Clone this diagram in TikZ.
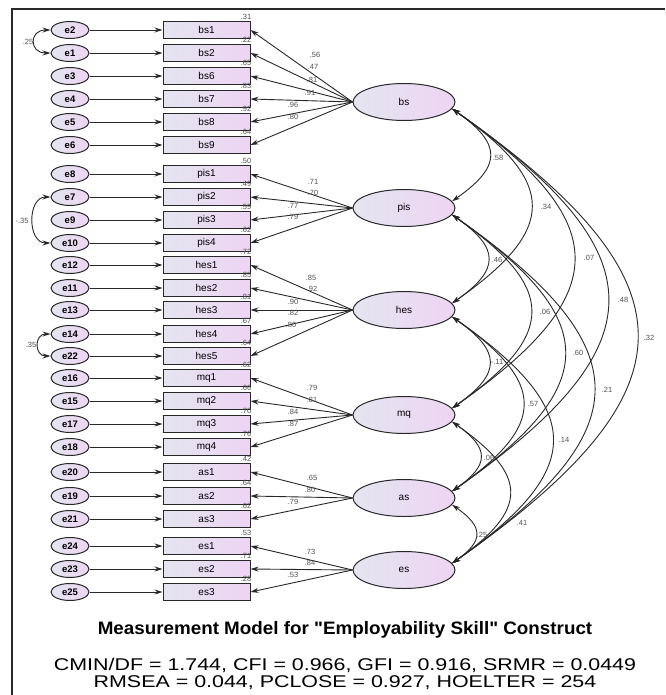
\documentclass[tikz,border=0pt]{standalone}
\usepackage{fontspec}
\setmainfont{Liberation Sans}[Ligatures=TeXOff]
\usetikzlibrary{arrows.meta, shapes.geometric}

\definecolor{linegray}{RGB}{40,40,40}
\definecolor{numgray}{RGB}{80,80,80}
\definecolor{fillleft}{RGB}{228,229,240}
\definecolor{fillright}{RGB}{238,212,243}

\tikzset{
  obs/.style = {draw=linegray, line width=1pt, rectangle, minimum width=87pt,
    minimum height=17pt, inner sep=0pt, left color=fillleft, right color=fillright,
    font=\fontsize{10}{10}\selectfont},
  err/.style = {draw=linegray, line width=1pt, ellipse, minimum width=38pt,
    minimum height=17pt, inner sep=0pt, left color=fillleft, right color=fillright,
    font=\fontsize{9.5}{9.5}\selectfont\bfseries},
  lat/.style = {draw=linegray, line width=1pt, ellipse, minimum width=102pt,
    minimum height=37pt, inner sep=0pt, left color=fillleft, right color=fillright,
    font=\fontsize{10}{10}\selectfont},
  num/.style = {font=\fontsize{7.5}{7.5}\selectfont, text=numgray, inner sep=0pt},
  load/.style = {-{Stealth[length=8pt, width=5pt]}, draw=linegray, line width=0.9pt},
  corr/.style = {{Stealth[length=8pt, width=5pt]}-{Stealth[length=8pt, width=5pt]},
    draw=linegray, line width=0.9pt},
  fit/.style = {font=\fontsize{17}{17}\selectfont, inner sep=0pt}
}

\begin{document}
\begin{tikzpicture}[x=1pt, y=1pt]
    \useasboundingbox (0,0) rectangle (665,-695);
    \draw [linegray, line width=1.3pt] (12,-695) -- (12,-9) -- (665,-9);

    % indicators and their errors
    \foreach \obsname/\errname/\y/\rsq in {bs1/e2/30/.31, bs2/e1/53/.22, bs6/e3/76/.65,
        bs7/e4/99/.83, bs8/e5/122/.92, bs9/e6/145/.64, pis1/e8/174/.50, pis2/e7/197/.49,
        pis3/e9/220/.59, pis4/e10/243/.62, hes1/e12/265/.72, hes2/e11/288/.85,
        hes3/e13/310/.81, hes4/e14/334/.67, hes5/e22/356/.64, mq1/e16/378/.62,
        mq2/e15/401/.66, mq3/e17/424/.70, mq4/e18/447/.76, as1/e20/472/.42,
        as2/e19/496/.64, as3/e21/519/.62, es1/e24/546/.53, es2/e23/569/.71,
        es3/e25/592/.28} {
      \node [obs] (\obsname) at (206.5,-\y) {\obsname};
      \node [err] (\errname) at (70,-\y) {\errname};
      \draw [load] (\errname) -- (\obsname);
      \node [num, anchor=south east] at ([xshift=1pt, yshift=1.5pt]\obsname.north east) {\rsq};
    }

    % latent factors
    \foreach \lat/\y in {bs/102, pis/208, hes/310, mq/415, as/498, es/570}
      \node [lat] (\lat) at (404,-\y) {\lat};

    % loadings
    \foreach \lat/\obsname/\lx/\ly/\val in {bs/bs1/315/55/.56, bs/bs2/313/67/.47,
        bs/bs6/312/80/.81, bs/bs7/310/93/.91, bs/bs8/293/105/.96, bs/bs9/293/117/.80,
        pis/pis1/313/182/.71, pis/pis2/313/193/.70, pis/pis3/293/206/.77,
        pis/pis4/293/217/.79, hes/hes1/311/278/.85, hes/hes2/312/289/.92,
        hes/hes3/293/302/.90, hes/hes4/293/313/.82, hes/hes5/291/325/.80,
        mq/mq1/312/388/.79, mq/mq2/312/400/.81, mq/mq3/293/412/.84, mq/mq4/293/424/.87,
        as/as1/312/478/.65, as/as2/310/490/.80, as/as3/293/502/.79,
        es/es1/310/552/.73, es/es2/310/563/.84, es/es3/293/575/.53} {
      \draw [load] (\lat.west) -- (\obsname.east);
      \node [num] at (\lx,-\ly) {\val};
    }

    % factor covariances
    \foreach \a/\b/\lx/\ly/\val in {bs/pis/498/158/.58, bs/hes/546/207/.34,
        bs/mq/589/258/.07, bs/as/623/300/.48, bs/es/649/338/.32,
        pis/hes/497/260/.46, pis/mq/545/312/.06, pis/as/578/353/.60,
        pis/es/607/390/.21, hes/mq/497/362/-.11, hes/as/533/404/.57,
        hes/es/564/440/.14, mq/as/489/458/.06, mq/es/522/523/.41,
        as/es/482/535/.25} {
      \draw [corr] (\a.-8) to [out=-35, in=35, looseness=1.7] (\b.8);
      \node [num] at (\lx,-\ly) {\val};
    }

    % error covariances
    \draw [corr] (e2.west) to [out=180, in=180, looseness=2.4] (e1.west);
    \node [num] at (28,-42) {.25};
    \draw [corr] (e7.west) to [out=180, in=180, looseness=1.3] (e10.west);
    \node [num] at (22,-221) {-.35};
    \draw [corr] (e14.west) to [out=180, in=180, looseness=1.9] (e22.west);
    \node [num] at (31,-345) {.35};

    \node [font=\bfseries\fontsize{18}{18}\selectfont] (title) at (345,-630)
      {\scalebox{1.045}[1]{Measurement Model for "Employability Skill" Construct}};
    \node [fit] (fitone) at (345,-665)
      {\scalebox{1.26}[1]{CMIN/DF = 1.744, CFI = 0.966, GFI = 0.916, SRMR = 0.0449}};
    \node [fit] (fittwo) at (345,-683)
      {\scalebox{1.26}[1]{RMSEA = 0.044, PCLOSE = 0.927, HOELTER = 254}};
\end{tikzpicture}
\end{document}
